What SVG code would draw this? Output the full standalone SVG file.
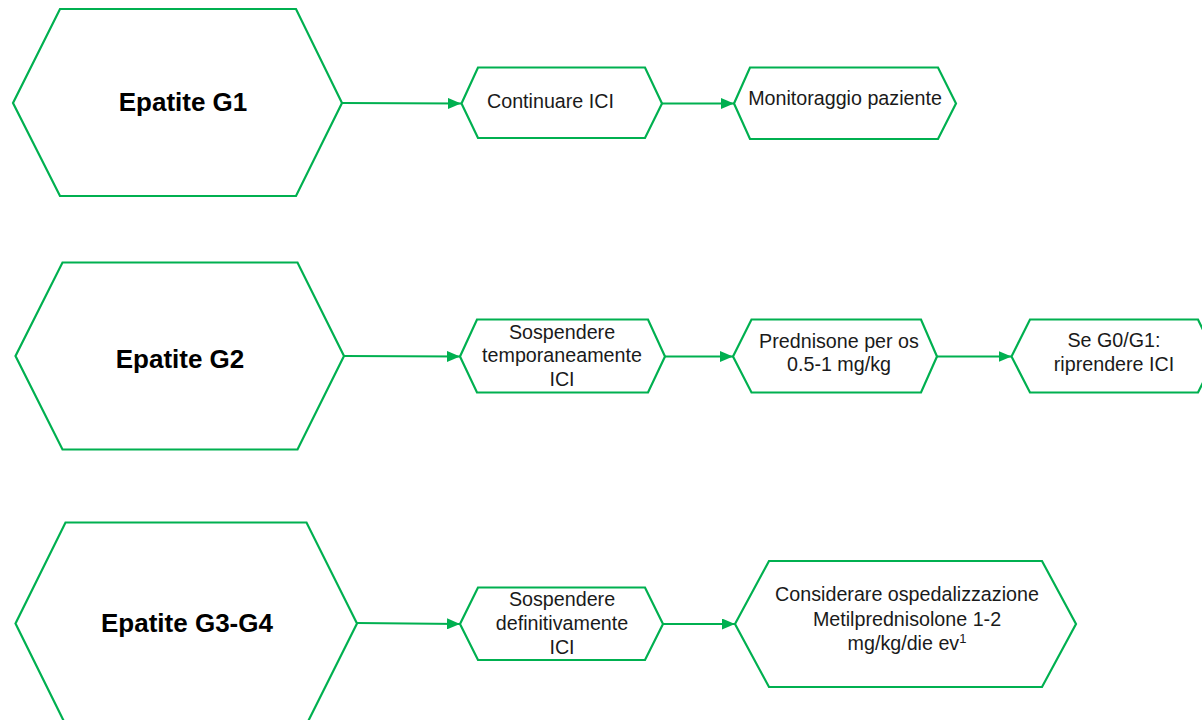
<svg xmlns="http://www.w3.org/2000/svg" width="1202" height="720" viewBox="0 0 1202 720">
  <style>
    .hex { fill: #ffffff; stroke: #00B050; stroke-width: 2.2; stroke-linejoin: miter; }
    .edge { fill: none; stroke: #00B050; stroke-width: 2.2; }
    .title { font-family: "Liberation Sans", Arial, sans-serif; font-weight: bold; font-size: 26px; fill: #000000; text-anchor: middle; }
    .body { font-family: "Liberation Sans", Arial, sans-serif; font-size: 19.7px; fill: #1a1a1a; text-anchor: middle; }
  </style>
  <defs>
    <marker id="arrow" markerUnits="userSpaceOnUse" markerWidth="13" markerHeight="11" refX="13" refY="5.5" orient="auto">
      <path d="M0,0 L13,5.5 L0,11 z" fill="#00B050"/>
    </marker>
  </defs>
  <rect width="1202" height="720" fill="#ffffff"/>

  <!-- connectors -->
  <g id="connectors">
    <line class="edge" x1="342" y1="103" x2="461" y2="103.5" marker-end="url(#arrow)"/>
    <line class="edge" x1="662" y1="103.5" x2="734" y2="103.5" marker-end="url(#arrow)"/>
    <line class="edge" x1="344" y1="356" x2="460" y2="356.5" marker-end="url(#arrow)"/>
    <line class="edge" x1="665" y1="356.5" x2="733" y2="356.5" marker-end="url(#arrow)"/>
    <line class="edge" x1="937" y1="356.5" x2="1011.5" y2="356.5" marker-end="url(#arrow)"/>
    <line class="edge" x1="357" y1="623" x2="460" y2="624" marker-end="url(#arrow)"/>
    <line class="edge" x1="663" y1="624" x2="735" y2="624" marker-end="url(#arrow)"/>
  </g>

  <!-- row G1 -->
  <g id="epatite-g1">
    <polygon class="hex" points="13,103 60,9 296,9 342,103 296,196 60,196"/>
    <text class="title" x="183" y="111">Epatite G1</text>
  </g>
  <g id="continuare-ici">
    <polygon class="hex" points="461.5,103.5 478,67.5 645,67.5 662,103.5 645,138 478,138"/>
    <text class="body" x="487" y="107.5" style="text-anchor:start">Continuare ICI</text>
  </g>
  <g id="monitoraggio">
    <polygon class="hex" points="734,103.5 750,67.5 938,67.5 956,103.5 938,139 750,139"/>
    <text class="body" x="845" y="105">Monitoraggio paziente</text>
  </g>

  <!-- row G2 -->
  <g id="epatite-g2">
    <polygon class="hex" points="15.5,356 62.5,262.5 297.5,262.5 344,356 297.5,449.5 62.5,449.5"/>
    <text class="title" x="180" y="368">Epatite G2</text>
  </g>
  <g id="sospendere-temp">
    <polygon class="hex" points="460,356.5 477,319.5 648,319.5 665,356.5 648,392.5 477,392.5"/>
    <text class="body" x="562" y="338.5">Sospendere</text>
    <text class="body" x="562" y="362">temporaneamente</text>
    <text class="body" x="562" y="385.5">ICI</text>
  </g>
  <g id="prednisone">
    <polygon class="hex" points="733,356.5 751.5,319.5 921,319.5 937,356.5 921,392.5 751.5,392.5"/>
    <text class="body" x="839" y="347.5">Prednisone per os</text>
    <text class="body" x="839" y="371">0.5-1 mg/kg</text>
  </g>
  <g id="riprendere">
    <polygon class="hex" points="1011.5,356.5 1030,319.5 1198,319.5 1216,356.5 1198,392.5 1030,392.5"/>
    <text class="body" x="1114" y="347">Se G0/G1:</text>
    <text class="body" x="1114" y="371">riprendere ICI</text>
  </g>

  <!-- row G3-G4 -->
  <g id="epatite-g3-g4">
    <polygon class="hex" points="15.5,623.5 65.5,522.5 306.5,522.5 357,623.5 306.5,724.5 65.5,724.5"/>
    <text class="title" x="187" y="632">Epatite G3-G4</text>
  </g>
  <g id="sospendere-def">
    <polygon class="hex" points="460,624 478,587.5 645,587.5 663,624 645,660 478,660"/>
    <text class="body" x="562" y="606">Sospendere</text>
    <text class="body" x="562" y="630">definitivamente</text>
    <text class="body" x="562" y="654">ICI</text>
  </g>
  <g id="ospedalizzazione">
    <polygon class="hex" points="735,624 769,561 1042,561 1076,624 1042,687 769,687"/>
    <text class="body" x="907" y="601">Considerare ospedalizzazione</text>
    <text class="body" x="907" y="625.5">Metilprednisolone 1-2</text>
    <text class="body" x="907" y="650">mg/kg/die ev<tspan dy="-7" font-size="13">1</tspan></text>
  </g>
</svg>
